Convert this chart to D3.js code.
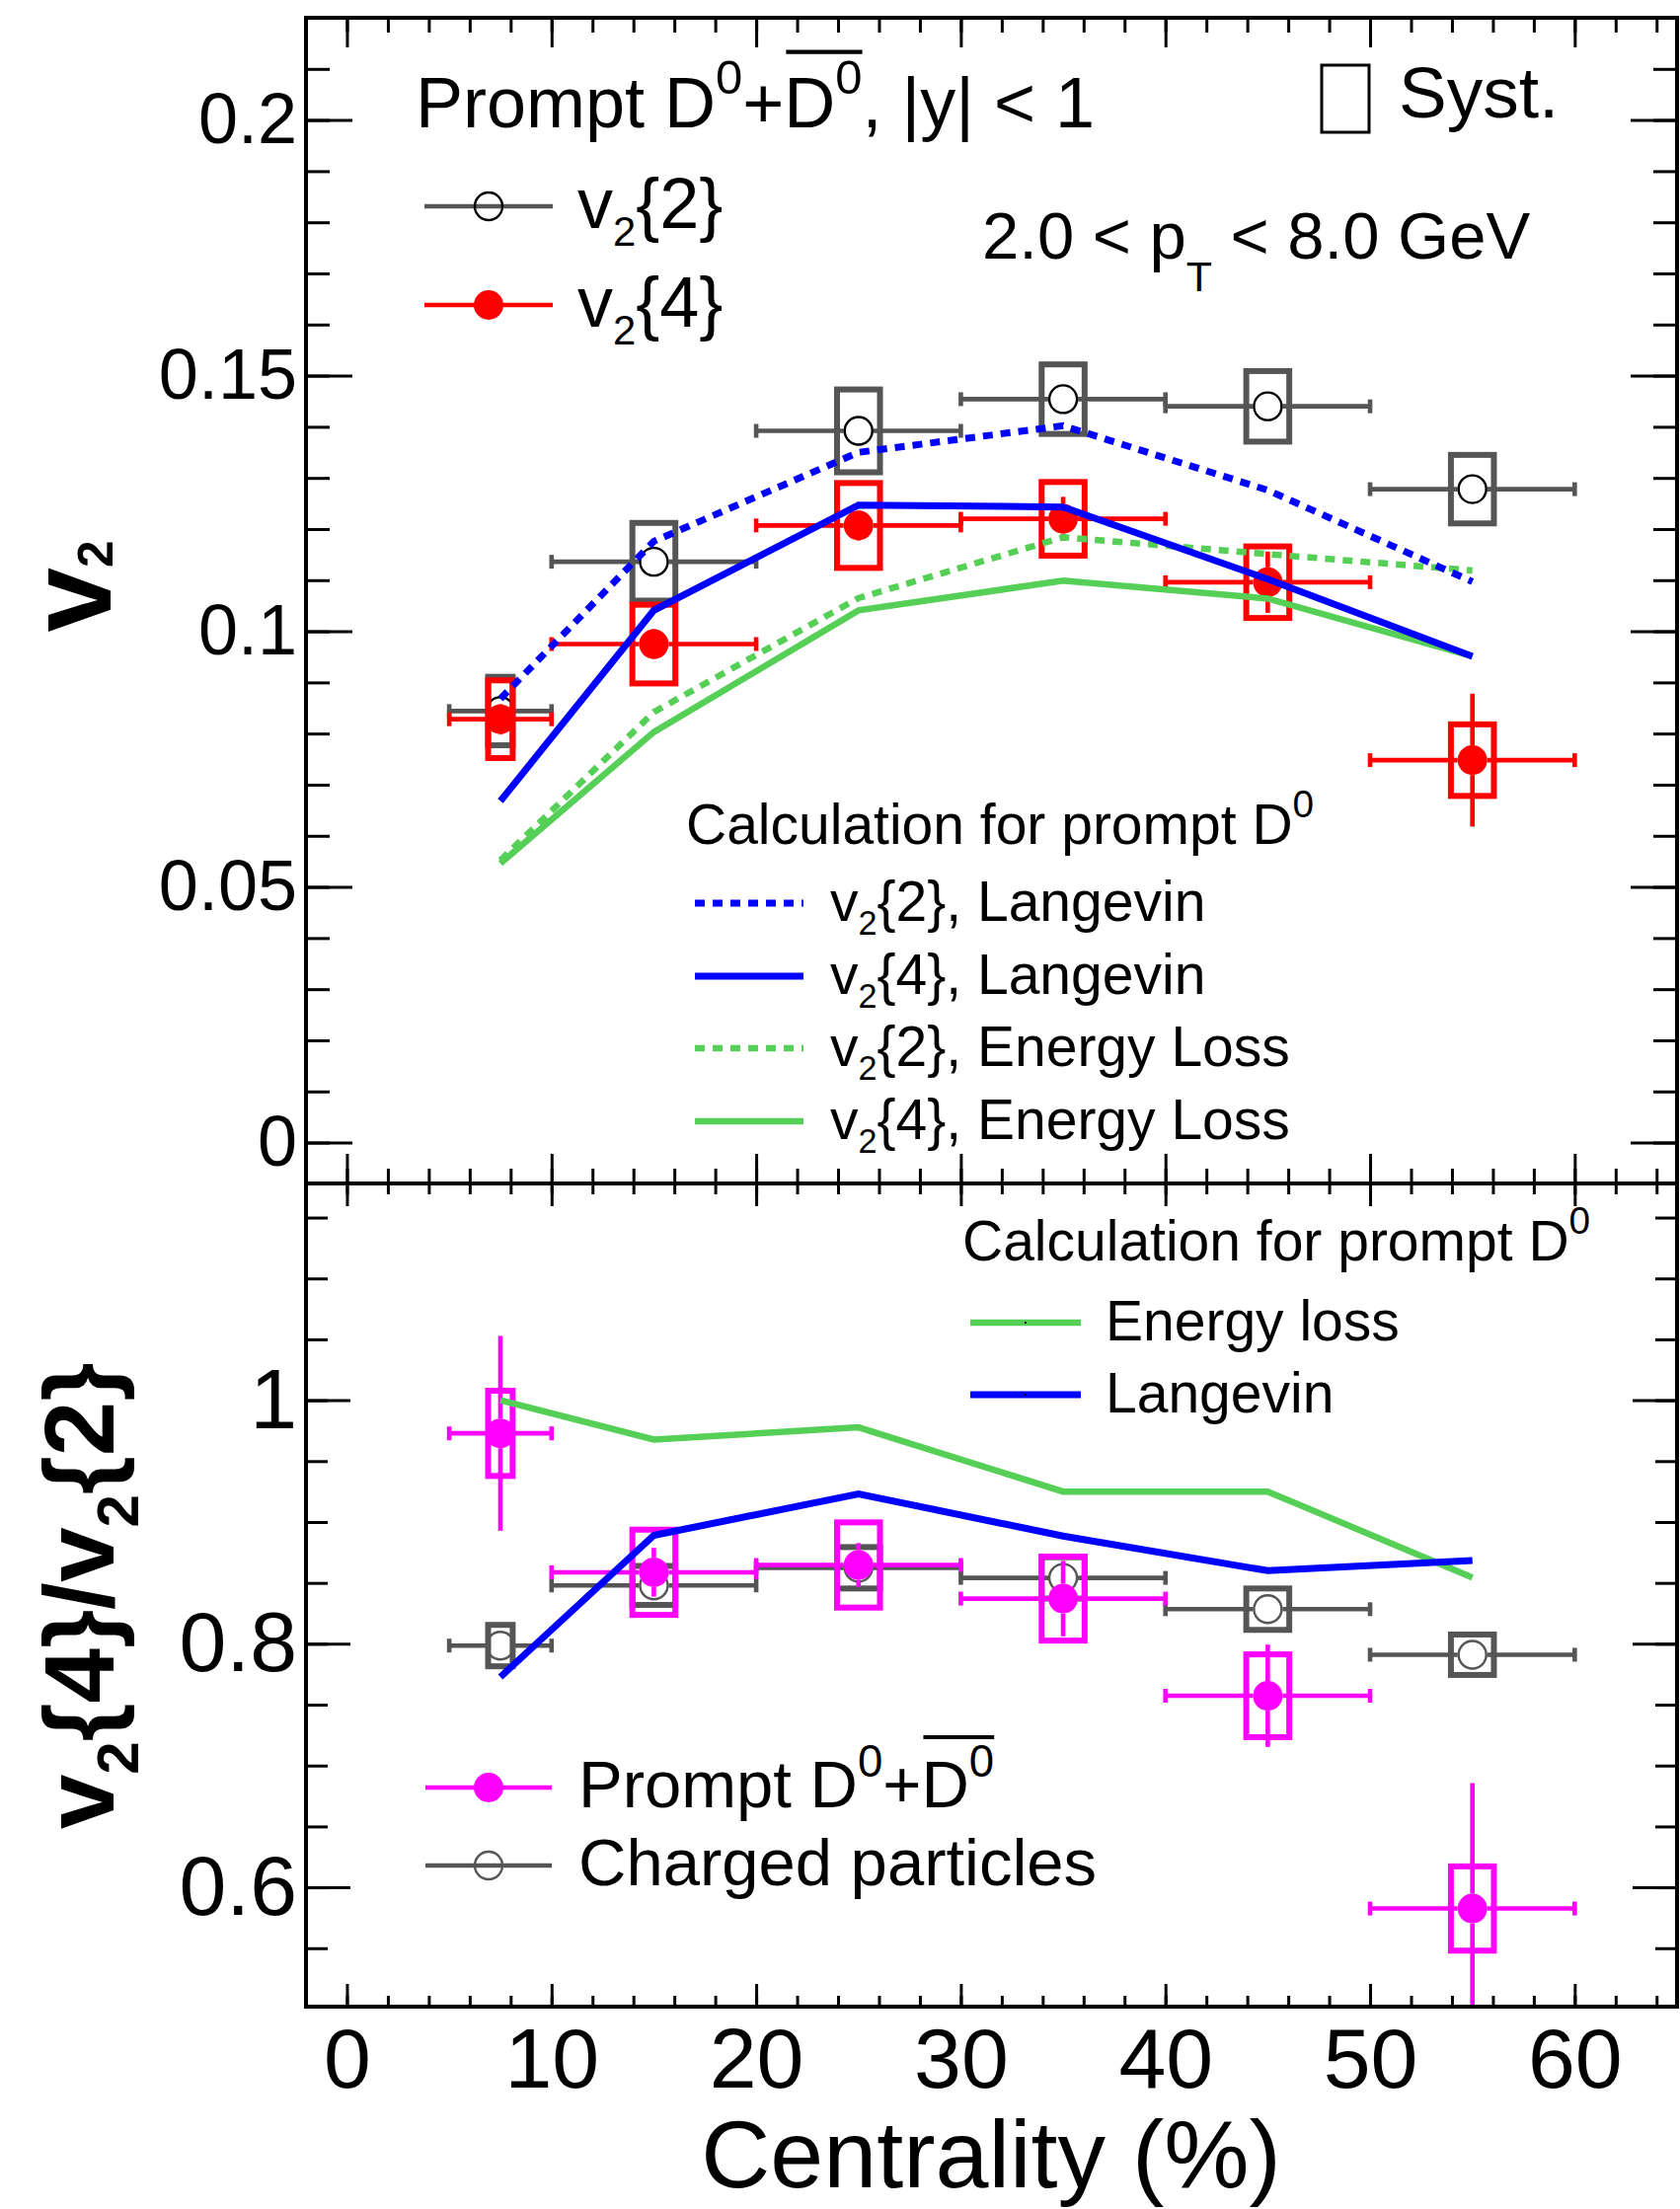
<!DOCTYPE html>
<html>
  <head>
    <meta charset="utf-8">
    <title>D0 v2 vs centrality</title>
    <script src="https://d3js.org/d3.v7.min.js"></script>
    <style>
      body { margin: 0; background: #fff; }
      svg text { font-family: 'Liberation Sans', Arial, Helvetica, sans-serif; fill: #000; }
    </style>
  </head>
  <body>
    <svg></svg>
    <script>

      //begin: data
      var centrality = [7.5, 15, 25, 35, 45, 55];
      var binLo = [5, 10, 20, 30, 40, 50];
      var binHi = [10, 20, 30, 40, 50, 60];

      // upper panel, v2
      var v22 = [0.0844, 0.1136, 0.1392, 0.1454, 0.1440, 0.1278];
      var v22Stat = [0.002, 0.002, 0.002, 0.002, 0.002, 0.002];
      var v22Syst = [0.0067, 0.0076, 0.0081, 0.0068, 0.0069, 0.0067];

      var v24 = [0.0828, 0.0975, 0.1207, 0.1220, 0.1096, 0.0748];
      var v24Stat = [0.003, 0.003, 0.003, 0.0043, 0.006, 0.013];
      var v24Syst = [0.0076, 0.0077, 0.0083, 0.0072, 0.0070, 0.0070];

      var langevinV22 = [0.0868, 0.1176, 0.1350, 0.1402, 0.1276, 0.1097];
      var langevinV24 = [0.0668, 0.1041, 0.1247, 0.1243, 0.1102, 0.0951];
      var elossV22 = [0.0552, 0.0842, 0.1065, 0.1184, 0.1151, 0.1119];
      var elossV24 = [0.0546, 0.0803, 0.1041, 0.1099, 0.1064, 0.0951];

      // lower panel, v2{4}/v2{2}
      var ratioD0 = [0.9728, 0.8587, 0.8647, 0.8371, 0.7573, 0.5826];
      var ratioD0Stat = [0.080, 0.020, 0.018, 0.031, 0.042, 0.103];
      var ratioD0Syst = [0.035, 0.035, 0.035, 0.0345, 0.034, 0.0346];

      var ratioCh = [0.7985, 0.8479, 0.8624, 0.8541, 0.8284, 0.7910];
      var ratioChStat = [0.003, 0.003, 0.003, 0.003, 0.003, 0.003];
      var ratioChSyst = [0.017, 0.016, 0.017, 0.017, 0.017, 0.0166];

      var ratioEloss = [1.000, 0.9677, 0.9777, 0.9250, 0.9250, 0.8544];
      var ratioLangevin = [0.7727, 0.8890, 0.9231, 0.8884, 0.8600, 0.8683];

      // ticks
      var xMajor = [0, 10, 20, 30, 40, 50, 60];
      var xMinor = d3.range(0, 65, 2);
      var yTopMajor = [0, 0.05, 0.1, 0.15, 0.2];
      var yTopMinor = d3.range(0, 22).map(function(i){ return i / 100; });
      var yBotMajor = [0.6, 0.8, 1.0];
      var yBotMinor = d3.range(11, 24).map(function(i){ return i * 0.05; });
      //end: data

      //begin: layout conf.
      var svgWidth = 1702, svgHeight = 2238;
      var frame = {l: 310, r: 1699, t: 18, mid: 1199, b: 2033};
      var col = {gray: '#555555', red: '#ff0000', magenta: '#ff00ff', blue: '#0000ff', green: '#56cf56'};
      var markerR = 15;
      var nb = '\u00a0';
      //end: layout conf.

      var x = d3.scaleLinear().domain([-2, 65]).range([frame.l, frame.r]);
      var yTop = d3.scaleLinear().domain([-0.008, 0.22]).range([frame.mid, frame.t]);
      var yBot = d3.scaleLinear().domain([0.502, 1.178]).range([frame.b, frame.mid]);

      var svg = d3.select('svg').attr('width', svgWidth).attr('height', svgHeight);
      var defs = svg.append('defs');
      defs.append('clipPath').attr('id', 'clipTop').append('rect')
        .attr('x', frame.l).attr('y', frame.t).attr('width', frame.r - frame.l).attr('height', frame.mid - frame.t);
      defs.append('clipPath').attr('id', 'clipBot').append('rect')
        .attr('x', frame.l).attr('y', frame.mid).attr('width', frame.r - frame.l).attr('height', frame.b - frame.mid);

      // text with sub/superscripts, laid out piece by piece
      function rich(parent, px, py, segs, size, o) {
        o = o || {};
        var g = parent.append('g').attr('transform', 'translate(' + px + ',' + py + ')' + (o.rot ? ' rotate(-90)' : ''));
        var inner = g.append('g');
        var cx = 0, ox0 = null, ox1 = null;
        segs.forEach(function(s) {
          var k = (s.sub || s.sup) ? (s.k || 0.64) : 1;
          var dy = s.sub ? size * (s.sub === true ? 0.25 : s.sub) : (s.sup ? -size * 0.47 : 0);
          var t = inner.append('text')
            .attr('x', cx).attr('y', dy)
            .style('font-size', (size * k) + 'px')
            .style('font-weight', o.bold ? 'bold' : 'normal')
            .text(s.t.replace(/ /g, nb));
          var w = t.node().getComputedTextLength();
          if (s.over) { if (ox0 === null) ox0 = cx; ox1 = cx + w; }
          cx += w;
        });
        if (ox0 !== null) {
          inner.append('line').attr('x1', ox0 + 2).attr('x2', ox1)
            .attr('y1', -size * 1.06).attr('y2', -size * 1.06)
            .attr('stroke', '#000').attr('stroke-width', size * 0.06);
        }
        var shift = o.anchor === 'middle' ? -cx / 2 : (o.anchor === 'end' ? -cx : 0);
        inner.attr('transform', 'translate(' + shift + ',0)');
        return g;
      }

      function boxHalf(i) { return (binHi[i] - binLo[i]) < 10 ? 0.6 : 1.05; }

      function drawSeries(g, ys, vals, stat, syst, color, filled, circleColor) {
        var idx = d3.range(vals.length);
        // systematic boxes
        g.append('g').selectAll('rect').data(idx).join('rect')
          .attr('x', function(i){ return x(centrality[i] - boxHalf(i)); })
          .attr('width', function(i){ return x(centrality[i] + boxHalf(i)) - x(centrality[i] - boxHalf(i)); })
          .attr('y', function(i){ return ys(vals[i] + syst[i]); })
          .attr('height', function(i){ return ys(vals[i] - syst[i]) - ys(vals[i] + syst[i]); })
          .attr('fill', 'none').attr('stroke', color).attr('stroke-width', 6);
        var bars = g.append('g').attr('stroke', color).attr('stroke-width', 4.6);
        idx.forEach(function(i) {
          var cx = x(centrality[i]), cy = ys(vals[i]);
          var xl = x(binLo[i]), xr = x(binHi[i]);
          bars.append('line').attr('x1', xl).attr('x2', cx - markerR).attr('y1', cy).attr('y2', cy);
          bars.append('line').attr('x1', cx + markerR).attr('x2', xr).attr('y1', cy).attr('y2', cy);
          bars.append('line').attr('x1', xl).attr('x2', xl).attr('y1', cy - 7).attr('y2', cy + 7);
          bars.append('line').attr('x1', xr).attr('x2', xr).attr('y1', cy - 7).attr('y2', cy + 7);
          var yu = ys(vals[i] + stat[i]), yd = ys(vals[i] - stat[i]);
          if (cy - yu > markerR) {
            bars.append('line').attr('x1', cx).attr('x2', cx).attr('y1', yu).attr('y2', cy - markerR);
            bars.append('line').attr('x1', cx).attr('x2', cx).attr('y1', cy + markerR).attr('y2', yd);
          }
        });
        g.append('g').selectAll('circle').data(idx).join('circle')
          .attr('cx', function(i){ return x(centrality[i]); })
          .attr('cy', function(i){ return ys(vals[i]); })
          .attr('r', filled ? markerR : markerR - 1)
          .attr('fill', filled ? color : 'none')
          .attr('stroke', filled ? 'none' : circleColor)
          .attr('stroke-width', 2.4);
      }

      function drawCurve(g, ys, vals, color, width, dashed) {
        var line = d3.line()
          .x(function(d, i){ return x(centrality[i]); })
          .y(function(d){ return ys(d); });
        g.append('path').datum(vals)
          .attr('d', line)
          .attr('fill', 'none')
          .attr('stroke', color)
          .attr('stroke-width', width)
          .attr('stroke-dasharray', dashed ? '10,8' : null);
      }

      function styleAxis(sel, fontSize) {
        sel.select('.domain').remove();
        sel.selectAll('.tick line').attr('stroke', '#000').attr('stroke-width', 3);
        sel.selectAll('text').style('font-size', fontSize + 'px')
          .style('font-family', "'Liberation Sans', Arial, sans-serif").attr('fill', '#000');
      }

      function xAxes(yPos, axisFn, majorLen, minorLen, withLabels) {
        var gMin = svg.append('g').attr('transform', 'translate(0,' + yPos + ')')
          .call(axisFn(x).tickValues(xMinor).tickSize(-minorLen).tickSizeOuter(0).tickFormat(''));
        styleAxis(gMin, 10);
        var ax = axisFn(x).tickValues(xMajor).tickSize(-majorLen).tickSizeOuter(0).tickPadding(21);
        if (!withLabels) ax.tickFormat('');
        var gMaj = svg.append('g').attr('transform', 'translate(0,' + yPos + ')').call(ax);
        styleAxis(gMaj, 86);
      }

      function yAxes(ys, major, minor, majorLen, minorLen, fontSize, fmt) {
        [[d3.axisLeft, frame.l, true], [d3.axisRight, frame.r, false]].forEach(function(a) {
          var gMin = svg.append('g').attr('transform', 'translate(' + a[1] + ',0)')
            .call(a[0](ys).tickValues(minor).tickSize(-minorLen).tickSizeOuter(0).tickFormat(''));
          styleAxis(gMin, 10);
          var ax = a[0](ys).tickValues(major).tickSize(-majorLen).tickSizeOuter(0).tickPadding(9)
            .tickFormat(a[2] ? fmt : '');
          var gMaj = svg.append('g').attr('transform', 'translate(' + a[1] + ',0)').call(ax);
          styleAxis(gMaj, fontSize);
        });
      }

      //begin: upper panel
      var panelTop = svg.append('g').attr('clip-path', 'url(#clipTop)');
      drawSeries(panelTop, yTop, v22, v22Stat, v22Syst, col.gray, false, '#000');
      drawSeries(panelTop, yTop, v24, v24Stat, v24Syst, col.red, true);
      drawCurve(panelTop, yTop, elossV24, col.green, 6.5, false);
      drawCurve(panelTop, yTop, elossV22, col.green, 6.5, true);
      drawCurve(panelTop, yTop, langevinV24, col.blue, 7, false);
      drawCurve(panelTop, yTop, langevinV22, col.blue, 7, true);
      //end: upper panel

      //begin: lower panel
      var panelBot = svg.append('g').attr('clip-path', 'url(#clipBot)');
      drawSeries(panelBot, yBot, ratioCh, ratioChStat, ratioChSyst, col.gray, false, col.gray);
      drawSeries(panelBot, yBot, ratioD0, ratioD0Stat, ratioD0Syst, col.magenta, true);
      drawCurve(panelBot, yBot, ratioEloss, col.green, 6.5, false);
      drawCurve(panelBot, yBot, ratioLangevin, col.blue, 7, false);
      //end: lower panel

      //begin: frames and axes
      svg.append('rect').attr('x', frame.l).attr('y', frame.t)
        .attr('width', frame.r - frame.l).attr('height', frame.b - frame.t)
        .attr('fill', 'none').attr('stroke', '#000').attr('stroke-width', 4);
      svg.append('line').attr('x1', frame.l).attr('x2', frame.r)
        .attr('y1', frame.mid).attr('y2', frame.mid)
        .attr('stroke', '#000').attr('stroke-width', 4);

      xAxes(frame.t, d3.axisTop, 30, 15, false);
      xAxes(frame.mid, d3.axisBottom, 30, 15, false);
      xAxes(frame.mid, d3.axisTop, 23, 11, false);
      xAxes(frame.b, d3.axisBottom, 23, 11, true);

      yAxes(yTop, yTopMajor, yTopMinor, 47, 24, 72, function(d){ return String(+d.toFixed(2)); });
      yAxes(yBot, yBotMajor, yBotMinor, 45, 22, 86, function(d){ return String(+d.toFixed(1)); });
      //end: frames and axes

      //begin: titles
      rich(svg, 1004, 2216, [{t: 'Centrality (%)'}], 97, {anchor: 'middle'});
      rich(svg, 112, 594, [{t: 'v'}, {t: '2', sub: 0.02, k: 0.42}], 118, {rot: true, bold: true, anchor: 'middle'});
      rich(svg, 115, 1617, [{t: 'v'}, {t: '2', sub: true, k: 0.6}, {t: '{4}/v'}, {t: '2', sub: true, k: 0.6}, {t: '{2}'}], 100,
        {rot: true, bold: true, anchor: 'middle'});
      //end: titles

      //begin: upper legends
      rich(svg, 421, 129, [{t: 'Prompt D'}, {t: '0', sup: true, k: 0.68}, {t: '+'}, {t: 'D', over: true},
        {t: '0', sup: true, k: 0.68, over: true}, {t: ', |y| < 1'}], 72);
      svg.append('rect').attr('x', 1339).attr('y', 66).attr('width', 48).attr('height', 68)
        .attr('fill', 'none').attr('stroke', '#000').attr('stroke-width', 3);
      rich(svg, 1417, 119, [{t: 'Syst.'}], 73);
      rich(svg, 995, 262, [{t: '2.0 < p'}, {t: 'T', sub: 0.49, k: 0.64}, {t: ' < 8.0 GeV'}], 67);

      var dataLegend = [
        {y: 209, color: col.gray, filled: false, stroke: '#000', label: [{t: 'v'}, {t: '2', sub: true, k: 0.58}, {t: '{2}'}]},
        {y: 309, color: col.red, filled: true, label: [{t: 'v'}, {t: '2', sub: true, k: 0.58}, {t: '{4}'}]}
      ];
      dataLegend.forEach(function(d) {
        svg.append('line').attr('x1', 430).attr('x2', 560).attr('y1', d.y).attr('y2', d.y)
          .attr('stroke', d.color).attr('stroke-width', 4.6);
        svg.append('circle').attr('cx', 495).attr('cy', d.y).attr('r', d.filled ? markerR : markerR - 1)
          .attr('fill', d.filled ? d.color : 'none').attr('stroke', d.filled ? 'none' : d.stroke).attr('stroke-width', 2.4);
        rich(svg, 585, d.y + 22, d.label, 72);
      });

      rich(svg, 695, 855, [{t: 'Calculation for prompt D'}, {t: '0', sup: true, k: 0.68}], 57);
      var modelLegend = [
        {y: 915, color: col.blue, w: 7, dash: true, label: '{2}, Langevin'},
        {y: 989, color: col.blue, w: 7, dash: false, label: '{4}, Langevin'},
        {y: 1062, color: col.green, w: 6.5, dash: true, label: '{2}, Energy Loss'},
        {y: 1136, color: col.green, w: 6.5, dash: false, label: '{4}, Energy Loss'}
      ];
      modelLegend.forEach(function(d) {
        svg.append('line').attr('x1', 704).attr('x2', 814).attr('y1', d.y).attr('y2', d.y)
          .attr('stroke', d.color).attr('stroke-width', d.w).attr('stroke-dasharray', d.dash ? '10,8' : null);
        rich(svg, 841, d.y + 18, [{t: 'v'}, {t: '2', sub: true, k: 0.6}, {t: d.label}], 57);
      });
      //end: upper legends

      //begin: lower legends
      rich(svg, 975, 1277, [{t: 'Calculation for prompt D'}, {t: '0', sup: true, k: 0.68}], 57);
      [{y: 1340, color: col.green, w: 6.5, label: 'Energy loss'}, {y: 1413, color: col.blue, w: 7, label: 'Langevin'}]
        .forEach(function(d) {
          svg.append('line').attr('x1', 983).attr('x2', 1095).attr('y1', d.y).attr('y2', d.y)
            .attr('stroke', d.color).attr('stroke-width', d.w);
          svg.append('rect').attr('x', 1038).attr('y', d.y - 1).attr('width', 2).attr('height', 2).attr('fill', '#000');
          rich(svg, 1120, d.y + 18, [{t: d.label}], 57);
        });

      [{y: 1811, color: col.magenta, filled: true,
         label: [{t: 'Prompt D'}, {t: '0', sup: true, k: 0.68}, {t: '+'}, {t: 'D', over: true}, {t: '0', sup: true, k: 0.68, over: true}]},
       {y: 1890, color: col.gray, filled: false, label: [{t: 'Charged particles'}]}]
        .forEach(function(d) {
          svg.append('line').attr('x1', 431).attr('x2', 559).attr('y1', d.y).attr('y2', d.y)
            .attr('stroke', d.color).attr('stroke-width', 4.6);
          svg.append('circle').attr('cx', 495).attr('cy', d.y).attr('r', d.filled ? markerR : markerR - 1)
            .attr('fill', d.filled ? d.color : 'none').attr('stroke', d.filled ? 'none' : d.color).attr('stroke-width', 2.4);
          rich(svg, 586, d.y + 20, d.label, 67);
        });
      //end: lower legends

    </script>
  </body>
</html>
